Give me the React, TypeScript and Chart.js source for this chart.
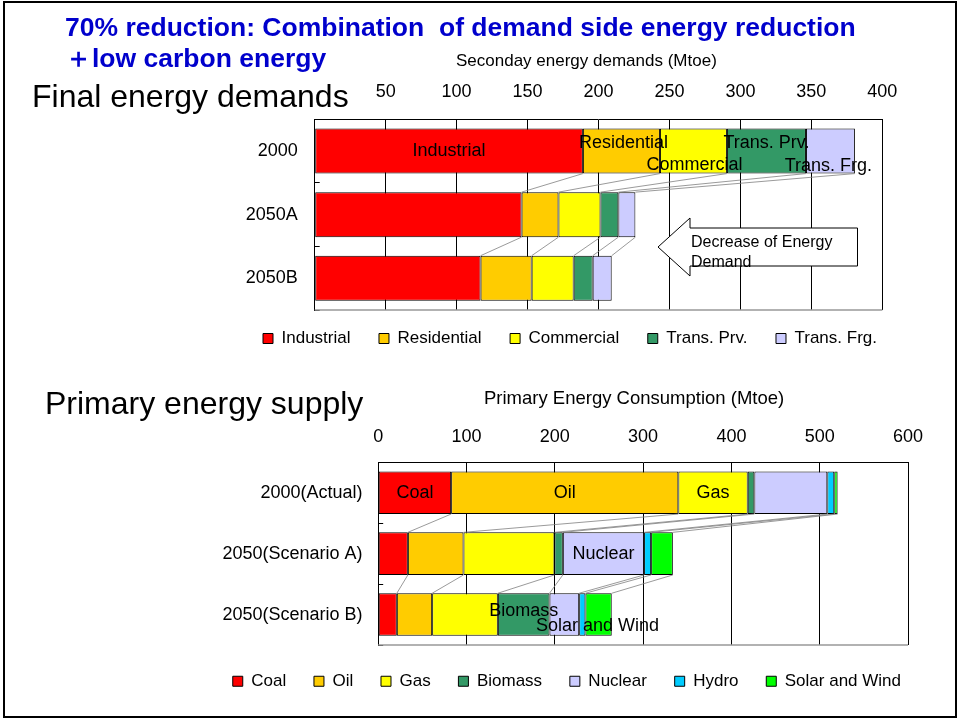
import React, { useEffect, useRef } from 'react';
import { Chart, registerables } from 'chart.js';

Chart.register(...registerables);

const FONT = "'Liberation Sans', Arial, Helvetica, sans-serif";
Chart.defaults.font.family = FONT;

// ---------- Final energy demands (Mtoe) ----------
const demandCategories = ['2000', '2050A', '2050B'];
const demandSeriesNames = ['Industrial', 'Residential', 'Commercial', 'Trans. Prv.', 'Trans. Frg.'];
const industrial = [189.0, 145.8, 116.9];
const residential = [54.3, 26.0, 36.0];
const commercial = [47.2, 29.6, 29.6];
const transPrv = [55.7, 12.6, 13.4];
const transFrg = [34.5, 12.0, 13.4];
const demandAxisMax = 400;
const demandAxisStep = 50;

// ---------- Primary energy supply (Mtoe) ----------
const supplyCategories = ['2000(Actual)', '2050(Scenario A)', '2050(Scenario B)'];
const supplySeriesNames = ['Coal', 'Oil', 'Gas', 'Biomass', 'Nuclear', 'Hydro', 'Solar and Wind'];
const coal = [82.6, 33.6, 21.1];
const oil = [257.3, 63.0, 40.0];
const gas = [78.6, 103.0, 74.4];
const biomass = [7.5, 9.5, 58.5];
const nuclear = [82.6, 92.0, 33.6];
const hydro = [7.9, 8.0, 7.1];
const solarWind = [3.8, 24.6, 29.8];
const supplyAxisMax = 600;
const supplyAxisStep = 100;

// ---------- styles ----------
const demandColors = ['#FF0000', '#FFCC00', '#FFFF00', '#339966', '#CCCCFF'];
const supplyColors = ['#FF0000', '#FFCC00', '#FFFF00', '#339966', '#CCCCFF', '#00CCFF', '#00FF00'];

type LabelSpec = { ds: number; cat: number; dx: number; dy: number };
const demandLabelSpecs: LabelSpec[] = [
  { ds: 0, cat: 0, dx: 0, dy: 0 },
  { ds: 1, cat: 0, dx: 2, dy: -8 },
  { ds: 2, cat: 0, dx: 1, dy: 14 },
  { ds: 3, cat: 0, dx: 0, dy: -8 },
  { ds: 4, cat: 0, dx: -2, dy: 15 },
];
const supplyLabelSpecs: LabelSpec[] = [
  { ds: 0, cat: 0, dx: 0, dy: 0 },
  { ds: 1, cat: 0, dx: 0, dy: 0 },
  { ds: 2, cat: 0, dx: 0, dy: 0 },
  { ds: 4, cat: 1, dx: 0, dy: 0 },
  { ds: 3, cat: 2, dx: 0, dy: -4 },
  { ds: 6, cat: 2, dx: -1, dy: 11 },
];

function overlayPlugin(specs: LabelSpec[]) {
  return {
    id: 'overlay',
    afterDatasetsDraw(chart: any) {
      const ctx = chart.ctx;
      const area = chart.chartArea;
      ctx.save();
      // plot-area bottom edge
      ctx.strokeStyle = '#999999';
      ctx.lineWidth = 1.5;
      ctx.beginPath();
      ctx.moveTo(area.left, area.bottom);
      ctx.lineTo(area.right, area.bottom);
      ctx.stroke();
      // series lines between consecutive bars
      ctx.strokeStyle = '#808080';
      ctx.lineWidth = 0.8;
      const n = chart.data.datasets.length;
      for (let d = 0; d < n; d++) {
        const meta = chart.getDatasetMeta(d);
        for (let i = 0; i < meta.data.length - 1; i++) {
          const a: any = meta.data[i];
          const b: any = meta.data[i + 1];
          ctx.beginPath();
          ctx.moveTo(a.x, a.y + a.height / 2);
          ctx.lineTo(b.x, b.y - b.height / 2);
          ctx.stroke();
        }
      }
      // segment labels
      ctx.fillStyle = '#000';
      ctx.font = `18px ${FONT}`;
      ctx.textAlign = 'center';
      ctx.textBaseline = 'middle';
      for (const s of specs) {
        const el: any = chart.getDatasetMeta(s.ds).data[s.cat];
        ctx.fillText(String(chart.data.datasets[s.ds].label), (el.x + el.base) / 2 + s.dx, el.y + s.dy);
      }
      ctx.restore();
    },
  };
}

type Cfg = {
  categories: string[];
  names: string[];
  series: number[][];
  colors: string[];
  max: number;
  step: number;
  barPct: number;
  padBottom: number;
  xAxisHeight: number;
  xTickPad: number;
  yWidth: number;
  yTickPad: number;
  rightSpace: number;
  legendPad: number;
  legendSuffix: string;
  hideZero: boolean;
  specs: LabelSpec[];
};

function buildConfig(c: Cfg): any {
  return {
    type: 'bar',
    data: {
      labels: c.categories,
      datasets: c.names.map((name, i) => ({
        label: name,
        data: c.series[i],
        backgroundColor: c.colors[i],
        borderColor: '#000000',
        borderWidth: 1,
        borderSkipped: false,
        barPercentage: c.barPct,
        categoryPercentage: 1,
      })),
    },
    options: {
      indexAxis: 'y',
      responsive: false,
      animation: false,
      layout: { padding: { left: 0, right: 0, top: 0, bottom: c.padBottom } },
      scales: {
        x: {
          position: 'top',
          stacked: true,
          min: 0,
          max: c.max,
          ticks: {
            stepSize: c.step,
            autoSkip: false,
            padding: c.xTickPad,
            color: '#000',
            font: { size: 18 },
            callback: (v: any) => (c.hideZero && Number(v) === 0 ? '' : String(v)),
          },
          grid: { color: '#000', lineWidth: 1, drawTicks: false },
          border: { display: true, color: '#000', width: 1 },
          afterFit: (s: any) => {
            s.height = c.xAxisHeight;
          },
        },
        y: {
          stacked: true,
          ticks: { padding: c.yTickPad, color: '#000', font: { size: 18 } },
          grid: { drawOnChartArea: false, drawTicks: true, tickLength: -5, color: '#000', offset: true },
          border: { display: true, color: '#000', width: 1 },
          afterFit: (s: any) => {
            s.width = c.yWidth;
          },
        },
        yRight: {
          type: 'category',
          position: 'right',
          display: true,
          ticks: { display: false },
          grid: { display: false },
          border: { display: false },
          afterFit: (s: any) => {
            s.width = c.rightSpace;
          },
        },
      },
      plugins: {
        legend: {
          position: 'bottom',
          align: 'start',
          labels: {
            boxWidth: 10,
            boxHeight: 10,
            padding: c.legendPad,
            color: '#000',
            font: { size: 17 },
            generateLabels: (chart: any) =>
              (Chart.defaults.plugins.legend.labels as any)
                .generateLabels(chart)
                .map((it: any) => ({ ...it, text: it.text + c.legendSuffix })),
          },
        },
        tooltip: { enabled: false },
      },
    },
    plugins: [overlayPlugin(c.specs)],
  };
}

function BarChart({ cfg, left, top, width, height }: { cfg: Cfg; left: number; top: number; width: number; height: number }) {
  const ref = useRef<HTMLCanvasElement | null>(null);
  useEffect(() => {
    if (!ref.current) return;
    const chart = new Chart(ref.current, buildConfig(cfg));
    return () => chart.destroy();
  }, []);
  return (
    <canvas
      ref={ref}
      width={width}
      height={height}
      style={{ position: 'absolute', left, top, width, height, display: 'block' }}
    />
  );
}

const demandCfg: Cfg = {
  categories: demandCategories,
  names: demandSeriesNames,
  series: [industrial, residential, commercial, transPrv, transFrg],
  colors: demandColors,
  max: demandAxisMax,
  step: demandAxisStep,
  barPct: 0.708,
  padBottom: 3,
  xAxisHeight: 79.3,
  xTickPad: 16.8,
  yWidth: 71.7,
  yTickPad: 22,
  rightSpace: 61.7,
  legendPad: 20,
  legendSuffix: '\u2002',
  hideZero: true,
  specs: demandLabelSpecs,
};

const supplyCfg: Cfg = {
  categories: supplyCategories,
  names: supplySeriesNames,
  series: [coal, oil, gas, biomass, nuclear, hydro, solarWind],
  colors: supplyColors,
  max: supplyAxisMax,
  step: supplyAxisStep,
  barPct: 0.7,
  padBottom: 0.25,
  xAxisHeight: 82.3,
  xTickPad: 14.5,
  yWidth: 173.2,
  yTickPad: 20.7,
  rightSpace: 37,
  legendPad: 27.75,
  legendSuffix: '',
  hideZero: false,
  specs: supplyLabelSpecs,
};

export default function App() {
  const abs = (o: React.CSSProperties): React.CSSProperties => ({ position: 'absolute', margin: 0, whiteSpace: 'pre', ...o });
  return (
    <div
      style={{
        position: 'fixed',
        left: 0,
        top: 0,
        width: 960,
        height: 721,
        overflow: 'hidden',
        background: '#fff',
        fontFamily: FONT,
      }}
    >
      <BarChart cfg={demandCfg} left={243} top={40} width={701} height={320} />
      <BarChart cfg={supplyCfg} left={204.5} top={380} width={740} height={320} />

      <div style={abs({ left: 3, top: 1, width: 954, height: 717, border: '2px solid #000', boxSizing: 'border-box' })} />

      <div
        style={abs({
          left: 65,
          top: 11.5,
          fontSize: 26.5,
          lineHeight: '31.6px',
          fontWeight: 'bold',
          color: '#0000CC',
        })}
      >
        {'70% reduction: Combination  of demand side energy reduction\n\uFF0Blow carbon energy'}
      </div>

      <div style={abs({ left: 32, top: 80, fontSize: 32, lineHeight: '32px', color: '#000', background: '#fff' })}>
        Final energy demands
      </div>
      <div style={abs({ left: 45, top: 387, fontSize: 32, lineHeight: '32px', color: '#000' })}>
        Primary energy supply
      </div>

      <div style={abs({ left: 456, top: 51, fontSize: 17, lineHeight: '20px', color: '#000' })}>
        Seconday energy demands (Mtoe)
      </div>
      <div style={abs({ left: 484, top: 388, fontSize: 18.5, lineHeight: '20px', color: '#000' })}>
        Primary Energy Consumption (Mtoe)
      </div>

      <svg width={960} height={721} style={{ position: 'absolute', left: 0, top: 0, pointerEvents: 'none' }}>
        <polygon
          points="658,247 690,218 690,228 857.5,228 857.5,266 690,266 690,276"
          fill="#fff"
          stroke="#000"
          strokeWidth={1}
        />
        <text x={691} y={247} fontSize={16} fontFamily={FONT} fill="#000">
          Decrease of Energy
        </text>
        <text x={691} y={267} fontSize={16} fontFamily={FONT} fill="#000">
          Demand
        </text>
      </svg>
    </div>
  );
}
